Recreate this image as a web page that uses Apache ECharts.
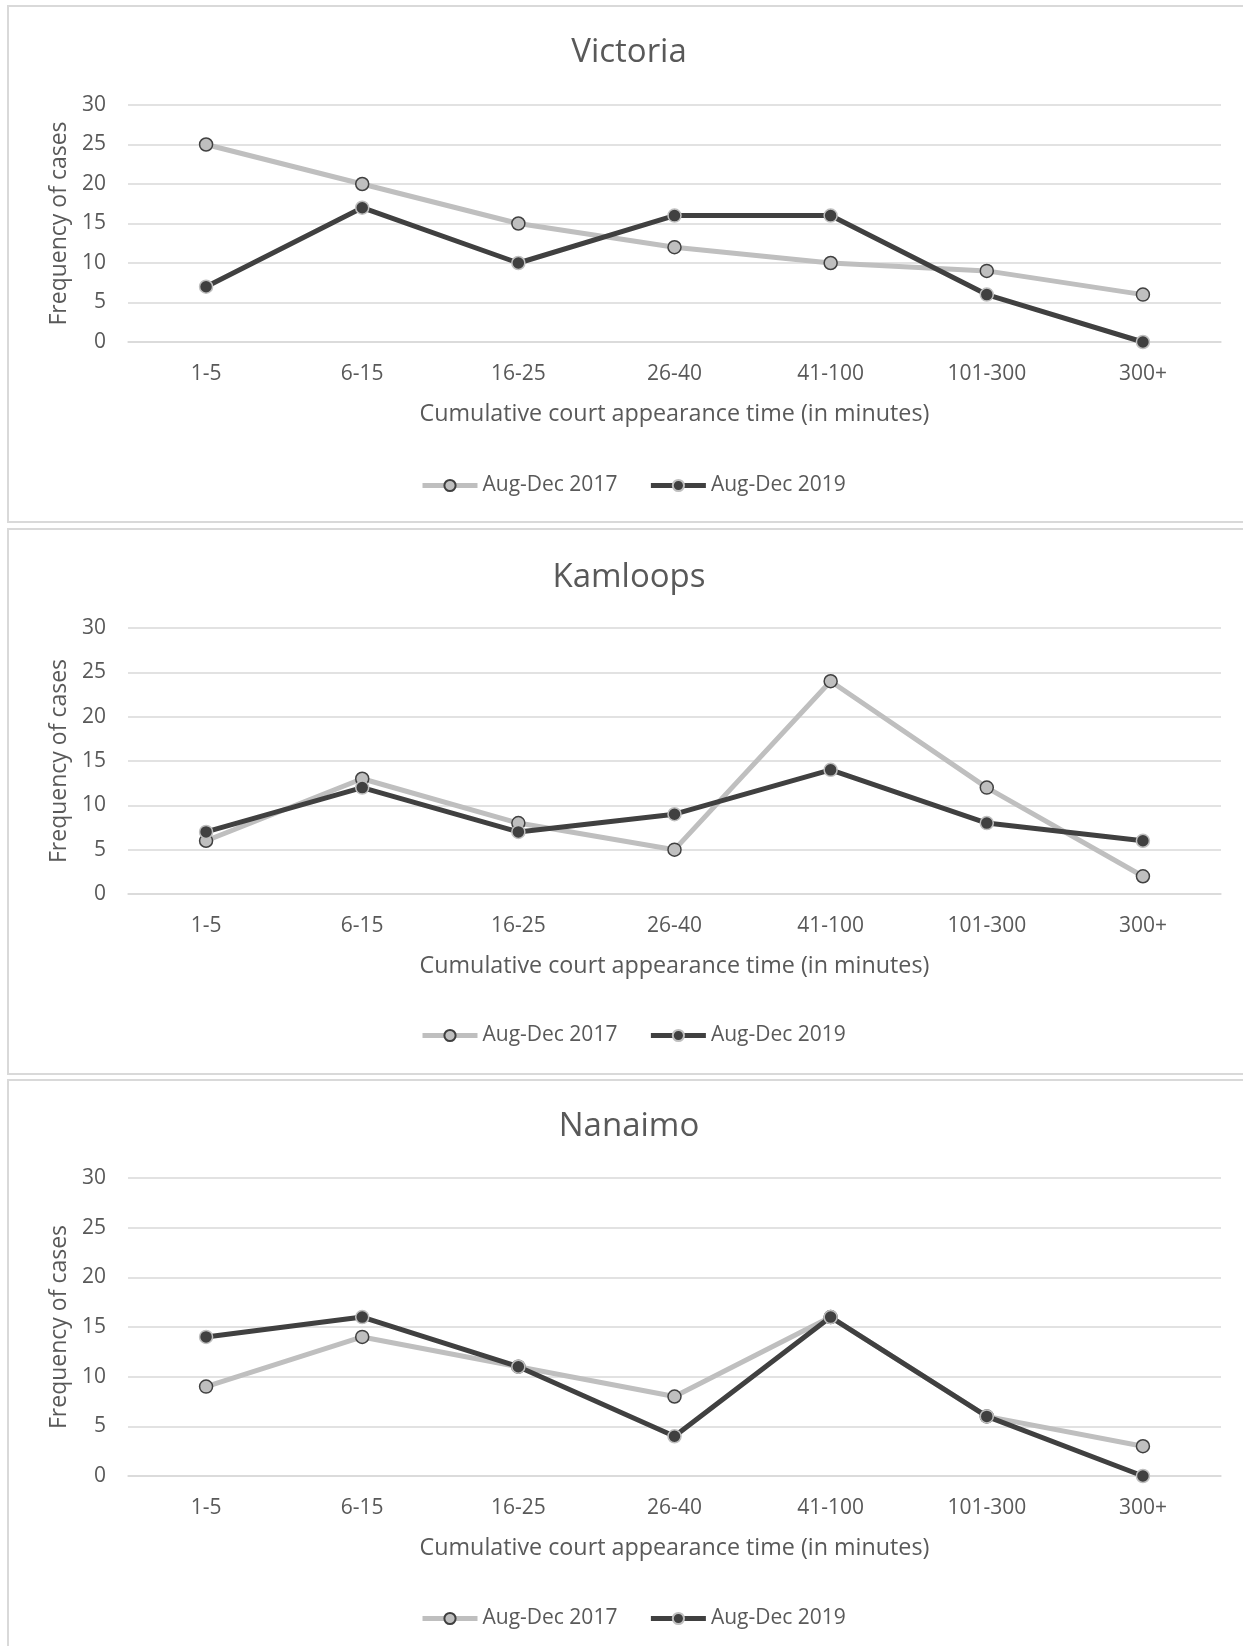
<!DOCTYPE html>
<html>
<head>
<meta charset="utf-8">
<script src="https://cdn.jsdelivr.net/npm/echarts@6/dist/echarts.min.js"></script>
<style>
html,body{margin:0;padding:0;background:#fff;}
#c{width:1243px;height:1646px;}
</style>
</head>
<body>
<div id="c"></div>
<script>
const categories = ['1-5','6-15','16-25','26-40','41-100','101-300','300+'];
const seriesNames = ['Aug-Dec 2017','Aug-Dec 2019'];
const panelTitles = ['Victoria','Kamloops','Nanaimo'];
const victoria2017 = [25,20,15,12,10,9,6];
const victoria2019 = [7,17,10,16,16,6,0];
const kamloops2017 = [6,13,8,5,24,12,2];
const kamloops2019 = [7,12,7,9,14,8,6];
const nanaimo2017 = [9,14,11,8,16,6,3];
const nanaimo2019 = [14,16,11,4,16,6,0];
const yTicks = [0,5,10,15,20,25,30];
const xAxisName = 'Cumulative court appearance time (in minutes)';
const yAxisName = 'Frequency of cases';

const panelData = [[victoria2017,victoria2019],[kamloops2017,kamloops2019],[nanaimo2017,nanaimo2019]];

const FONT = '"Open Sans", sans-serif';
const TXT = '#595959';
const LIGHT = '#bfbfbf';
const DARK = '#404040';
const GRID = '#d9d9d9';

const layout = [
  {box:[8,6,1250,516], titleY:50, gridTop:105, gridH:237, legendY:484},
  {box:[8,529,1250,545], titleY:575, gridTop:628, gridH:266, legendY:1034},
  {box:[8,1080,1250,600], titleY:1124, gridTop:1178, gridH:298, legendY:1617}
];

const option = {
  animation:false,
  backgroundColor:'#fff',
  textStyle:{fontFamily:FONT},
  graphic: layout.map(l=>({type:'rect',shape:{x:l.box[0],y:l.box[1],width:l.box[2],height:l.box[3]},style:{fill:'none',stroke:GRID,lineWidth:2},silent:true,z:-1})),
  title: layout.map((l,i)=>({text:panelTitles[i],left:624,textAlign:'center',top:l.titleY-19,textStyle:{fontFamily:FONT,fontSize:33,fontWeight:'normal',color:TXT}})),
  legend: layout.map((l,i)=>({data:seriesNames,left:420,top:l.legendY-14,padding:[5,0,5,0],itemWidth:55,itemHeight:14,itemGap:31,
    lineStyle:{width:'inherit'},
    textStyle:{fontFamily:FONT,fontSize:21,color:TXT}})),
  grid: layout.map(l=>({left:128,right:22,top:l.gridTop,height:l.gridH})),
  xAxis: layout.map((l,i)=>({gridIndex:i,type:'category',data:categories,boundaryGap:true,
    axisLine:{show:true,lineStyle:{color:GRID,width:1.5}},axisTick:{show:false},
    axisLabel:{fontFamily:FONT,fontSize:21,color:TXT,margin:22},
    name:xAxisName,nameLocation:'middle',nameGap:61,nameTextStyle:{fontFamily:FONT,fontSize:23.3,color:TXT}})),
  yAxis: layout.map((l,i)=>({gridIndex:i,type:'value',min:yTicks[0],max:yTicks[yTicks.length-1],interval:yTicks[1]-yTicks[0],
    axisLine:{show:false},axisTick:{show:false},
    splitLine:{lineStyle:{color:GRID,width:1.5}},
    axisLabel:{fontFamily:FONT,fontSize:21,color:TXT,margin:22},
    name:yAxisName,nameLocation:'middle',nameGap:54,nameRotate:90,nameTextStyle:{fontFamily:FONT,fontSize:23,color:TXT}})),
  series: []
};

panelData.forEach((pair,i)=>{
  option.series.push({name:seriesNames[0],type:'line',xAxisIndex:i,yAxisIndex:i,data:pair[0],
    symbol:'circle',symbolSize:13,
    lineStyle:{color:LIGHT,width:5},
    itemStyle:{color:LIGHT,borderColor:DARK,borderWidth:1.5}});
  option.series.push({name:seriesNames[1],type:'line',xAxisIndex:i,yAxisIndex:i,data:pair[1],
    symbol:'circle',symbolSize:13,
    lineStyle:{color:DARK,width:5},
    itemStyle:{color:DARK,borderColor:LIGHT,borderWidth:1.5}});
});

const chart = echarts.init(document.getElementById('c'),null,{renderer:'canvas'});
chart.setOption(option);
</script>
</body>
</html>
